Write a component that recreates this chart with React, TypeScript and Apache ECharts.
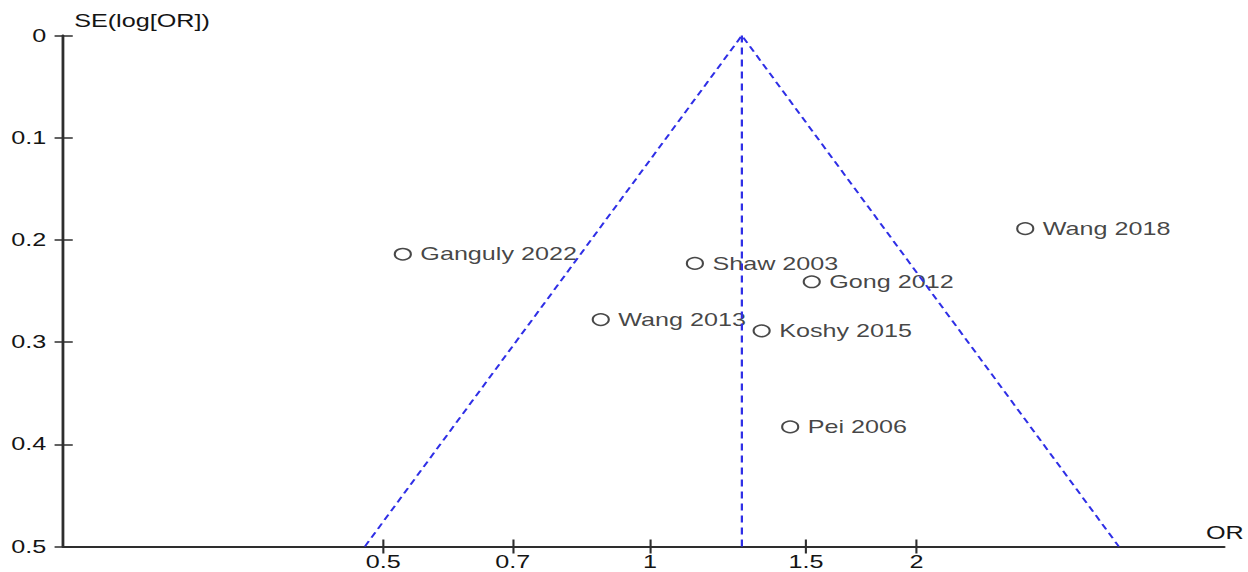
import React, { useEffect, useRef } from "react";
import * as echarts from "echarts";

// ---- data ----
const studies = ["Ganguly 2022", "Shaw 2003", "Wang 2018", "Gong 2012", "Wang 2013", "Koshy 2015", "Pei 2006"];
const oddsRatios = [0.526, 1.124, 2.653, 1.523, 0.88, 1.337, 1.44];
const standardErrors = [0.214, 0.223, 0.189, 0.241, 0.278, 0.289, 0.383];
const pooledOR = 1.27;
const seMax = 0.5;
const xTickValues = [0.5, 0.7, 1, 1.5, 2];
const xTickLabels = ["0.5", "0.7", "1", "1.5", "2"];
const yTickValues = [0, 0.1, 0.2, 0.3, 0.4, 0.5];
const yTickLabels = ["0", "0.1", "0.2", "0.3", "0.4", "0.5"];

const STRETCH = 1248 / 892;
const FONT = '"Liberation Sans", Arial, sans-serif';
const TEXT = "#141414";
const AXIS = "#2e2e2e";
const BLUE = "#2f2fe6";

export default function App() {
  const ref = useRef<HTMLDivElement>(null);
  useEffect(() => {
    document.body.style.margin = "0";
    if (!ref.current) return;
    const chart = echarts.init(ref.current, undefined, { renderer: "svg" });
    const lp = Math.log(pooledOR);
    const xLabelFor = (v: number) => {
      let best = 0;
      xTickValues.forEach((t, i) => {
        if (Math.abs(Math.log(t) - v) < Math.abs(Math.log(xTickValues[best]) - v)) best = i;
      });
      return xTickLabels[best];
    };
    const yLabelFor = (v: number) => {
      let best = 0;
      yTickValues.forEach((t, i) => {
        if (Math.abs(t - v) < Math.abs(yTickValues[best] - v)) best = i;
      });
      return yTickLabels[best];
    };
    const xMin = -1.526;
    const xMax = 1.493;
    chart.setOption({
      animation: false,
      grid: { left: 45, right: 0, top: 35.5, bottom: 25.5, containLabel: false },
      xAxis: [
        {
          type: "value",
          position: "bottom",
          min: xMin,
          max: xMax,
          splitLine: { show: false },
          axisLine: { show: true, onZero: false, lineStyle: { color: AXIS, width: 2 } },
          axisTick: { show: true, inside: false, length: 7, lineStyle: { color: AXIS, width: 1.5 }, customValues: xTickValues.map(Math.log) },
          axisLabel: {
            show: true,
            customValues: xTickValues.map(Math.log),
            formatter: (v: number) => xLabelFor(v),
            color: TEXT,
            fontFamily: FONT,
            fontSize: 18,
            margin: 6,
          },
          name: "OR",
          nameLocation: "end",
          nameGap: -13,
          nameTextStyle: { color: TEXT, fontFamily: FONT, fontSize: 18, align: "left", verticalAlign: "bottom", padding: [0, 0, 5, 0] },
        },
        {
          type: "value",
          position: "bottom",
          min: xMin,
          max: xMax,
          splitLine: { show: false },
          axisLine: { show: false, onZero: false },
          axisTick: { show: true, inside: true, length: 7, lineStyle: { color: AXIS, width: 1.5 }, customValues: xTickValues.map(Math.log) },
          axisLabel: { show: false },
        },
      ],
      yAxis: [
        {
          type: "value",
          position: "left",
          inverse: true,
          min: 0,
          max: seMax,
          interval: 0.1,
          splitLine: { show: false },
          axisLine: { show: true, onZero: false, lineStyle: { color: AXIS, width: 2 } },
          axisTick: { show: true, inside: false, length: 6, lineStyle: { color: AXIS, width: 1.5 } },
          axisLabel: { color: TEXT, fontFamily: FONT, fontSize: 18, margin: 12, formatter: (v: number) => yLabelFor(v) },
          name: "SE(log[OR])",
          nameLocation: "start",
          nameGap: 15,
          nameTextStyle: { color: TEXT, fontFamily: FONT, fontSize: 18, align: "left", verticalAlign: "middle", padding: [0, 0, 0, 8] },
        },
        {
          type: "value",
          position: "left",
          inverse: true,
          min: 0,
          max: seMax,
          interval: 0.1,
          splitLine: { show: false },
          axisLine: { show: false, onZero: false },
          axisTick: { show: true, inside: true, length: 7, lineStyle: { color: AXIS, width: 1.5 } },
          axisLabel: { show: false },
        },
      ],
      series: [
        {
          type: "line",
          xAxisIndex: 0,
          yAxisIndex: 0,
          symbol: "none",
          silent: true,
          lineStyle: { color: BLUE, width: 1.6, type: [6, 4] },
          data: [
            [lp - 1.96 * seMax, seMax],
            [lp, 0],
            [lp + 1.96 * seMax, seMax],
          ],
        },
        {
          type: "line",
          xAxisIndex: 0,
          yAxisIndex: 0,
          symbol: "none",
          silent: true,
          lineStyle: { color: BLUE, width: 1.6, type: [7, 5] },
          data: [
            [lp, 0],
            [lp, seMax],
          ],
        },
        {
          type: "scatter",
          xAxisIndex: 0,
          yAxisIndex: 0,
          symbol: "circle",
          symbolSize: 11.5,
          itemStyle: { color: "rgba(255,255,255,0)", borderColor: "#1a1a1a", borderWidth: 1.5 },
          label: {
            show: true,
            position: "right",
            distance: 6,
            color: TEXT,
            fontFamily: FONT,
            fontSize: 18,
            formatter: (p: any) => p.data[2],
          },
          data: studies.map((s, i) => [Math.log(oddsRatios[i]), standardErrors[i], s]),
        },
      ],
    });
    return () => chart.dispose();
  }, []);
  return (
    <div
      ref={ref}
      style={{
        position: "absolute",
        left: 0,
        top: 0,
        width: 892,
        height: 572,
        transform: `scaleX(${STRETCH})`,
        transformOrigin: "0 0",
        background: "#fff",
      }}
    />
  );
}
